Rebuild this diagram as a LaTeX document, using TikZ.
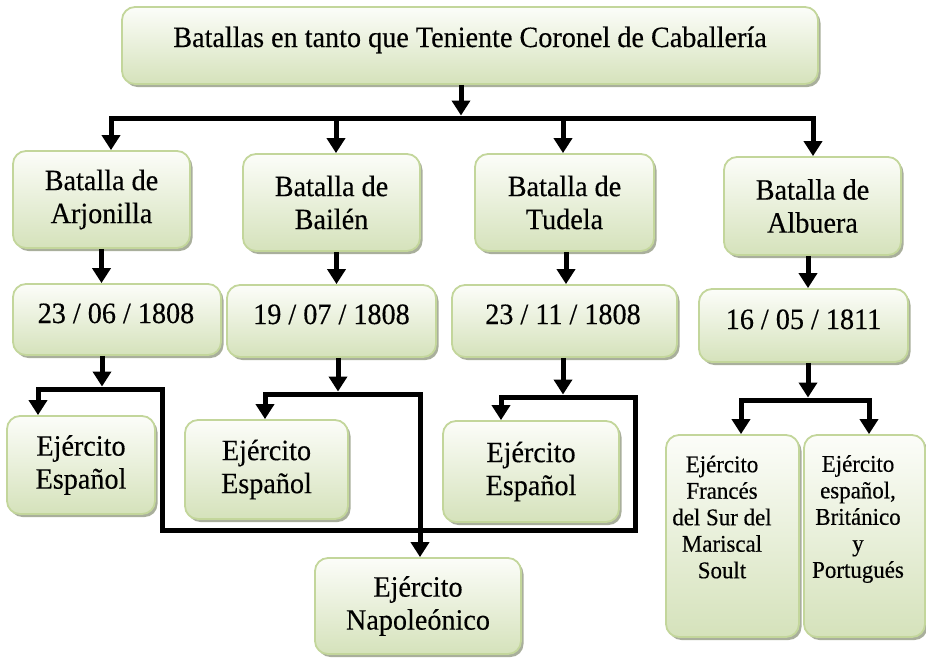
\documentclass[tikz,border=0pt]{standalone}
\usepackage{fontspec}
\setmainfont{Liberation Serif}[FakeStretch=0.955, FakeBold=0.35]
\usetikzlibrary{arrows.meta,shadows}
\definecolor{boxline}{RGB}{195,214,155}
\definecolor{boxtop}{RGB}{252,253,249}
\definecolor{boxbot}{RGB}{213,226,187}
\definecolor{shad}{RGB}{160,166,145}
\begin{document}
\begin{tikzpicture}[x=1pt,y=-1pt,
  box/.style={rectangle, rounded corners=13pt, draw=boxline, line width=1.8pt,
    top color=boxtop, bottom color=boxbot, inner sep=0pt,
    drop shadow={shadow xshift=2.5pt, shadow yshift=-3pt, fill=shad, opacity=0.9}},
  big/.style={font=\fontsize{29.5}{33}\selectfont, align=center, inner sep=0pt},
  small/.style={font=\fontsize{24}{26.5}\selectfont, align=center, inner sep=0pt},
  ln/.style={line width=5pt, line cap=rect, line join=miter},
  arr/.style={line width=5pt, -{Triangle[width=18pt,length=15pt]}}]
\useasboundingbox (0,0) rectangle (926,657);

% boxes
\node[box, minimum width=696pt, minimum height=77pt] (top) at (470,45.5) {};
\node[big, anchor=base] (toptext) at (470,47) {Batallas en tanto que Teniente Coronel de Caballería};

\node[box, big, minimum width=177pt, minimum height=97pt] (b1) at (101.5,199.5) {Batalla de\\Arjonilla};
\node[box, big, minimum width=177pt, minimum height=97pt] (b2) at (331.5,202.5) {Batalla de\\Bailén};
\node[box, big, minimum width=179pt, minimum height=97pt] (b3) at (564.5,202.5) {Batalla de\\Tudela};
\node[box, big, minimum width=177pt, minimum height=98pt] (b4) at (812.5,206) {Batalla de\\Albuera};

\node[box, minimum width=208pt, minimum height=71pt] (d1) at (117,319.5) {};
\node[big, anchor=base] (d1t) at (116,323) {23 / 06 / 1808};
\node[box, minimum width=209pt, minimum height=72pt] (d2) at (331.5,321) {};
\node[big, anchor=base] (d2t) at (331.5,324) {19 / 07 / 1808};
\node[box, minimum width=225pt, minimum height=72pt] (d3) at (564.5,321) {};
\node[big, anchor=base] (d3t) at (563,324) {23 / 11 / 1808};
\node[box, minimum width=209pt, minimum height=73pt] (d4) at (803.5,325.5) {};
\node[big, anchor=base] (d4t) at (803.5,329) {16 / 05 / 1811};

\node[box, big, minimum width=148pt, minimum height=98pt] (e1) at (81,465) {Ejército\\Español};
\node[box, big, minimum width=163pt, minimum height=99pt] (e2) at (266.5,469.5) {Ejército\\Español};
\node[box, big, minimum width=176pt, minimum height=101pt] (e3) at (531,471.5) {Ejército\\Español};
\node[box, big, minimum width=206pt, minimum height=96pt] (nap) at (418,606) {Ejército\\Napoleónico};

\node[box, minimum width=133pt, minimum height=202pt] (fr) at (732.5,536) {};
\node[small] (frt) at (722,517) {Ejército\\Francés\\del Sur del\\Mariscal\\Soult};
\node[box, minimum width=121pt, minimum height=202pt] (br) at (864.5,536) {};
\node[small] (brt) at (858,519) {Ejército\\español,\\Británico\\y\\Portugués};

% junction coordinates
\coordinate (h0) at (461,118);
\coordinate (h1) at (111,118);
\coordinate (h2) at (336,118);
\coordinate (h3) at (563,118);
\coordinate (h4) at (813,118);

\coordinate (a1) at (102,389);
\coordinate (a1L) at (38,389);
\coordinate (a1R) at (162,389);
\coordinate (low1) at (162,530);
\coordinate (low3) at (635,530);
\coordinate (a2) at (338,394);
\coordinate (a2L) at (265,394);
\coordinate (a2R) at (420,394);
\coordinate (a3) at (563,397);
\coordinate (a3L) at (501,397);
\coordinate (a3R) at (635,397);
\coordinate (a4) at (808,400);
\coordinate (a4L) at (741,400);
\coordinate (a4R) at (869,400);

% top level
\draw[arr, shorten >=2.5pt] (top.south -| h0) -- (h0);
\draw[ln] (h1) -- (h4);
\draw[arr] (h1) -- (h1 |- b1.north);
\draw[arr] (h2) -- (h2 |- b2.north);
\draw[arr] (h3) -- (h3 |- b3.north);
\draw[arr] (h4) -- (h4 |- b4.north);

% battles to dates
\draw[arr] (b1.south) -- (b1.south |- d1.north);
\draw[arr] ([xshift=5pt]b2.south) -- ([xshift=5pt]b2.south |- d2.north);
\draw[arr] ([xshift=1.5pt]b3.south) -- ([xshift=1.5pt]b3.south |- d3.north);
\draw[arr] ([xshift=-4.5pt]b4.south) -- ([xshift=-4.5pt]b4.south |- d4.north);

% dates to armies
\draw[arr, shorten >=2.5pt] (d1.south -| a1) -- (a1);
\draw[arr, shorten >=2.5pt] (d2.south -| a2) -- (a2);
\draw[arr, shorten >=2.5pt] (d3.south -| a3) -- (a3);
\draw[arr, shorten >=2.5pt] (d4.south -| a4) -- (a4);

\draw[ln] (a1L) -- (a1R) -- (low1) -- (low3) -- (a3R) -- (a3L);
\draw[ln] (a2L) -- (a2R);
\draw[ln] (a4L) -- (a4R);

\draw[arr] (a1L) -- (a1L |- e1.north);
\draw[arr] (a2L) -- (a2L |- e2.north);
\draw[arr] (a3L) -- (a3L |- e3.north);
\draw[arr] (a2R) -- (a2R |- nap.north);
\draw[arr] (a4L) -- (a4L |- fr.north);
\draw[arr] (a4R) -- (a4R |- br.north);
\end{tikzpicture}
\end{document}
